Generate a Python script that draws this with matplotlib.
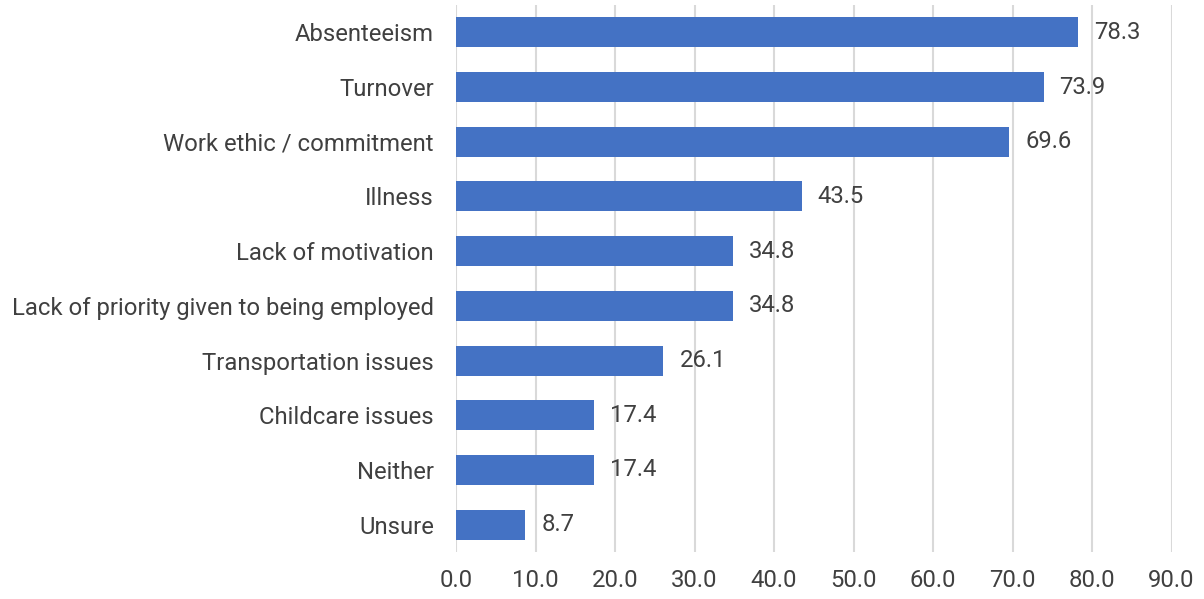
import matplotlib
matplotlib.use("Agg")
import matplotlib.pyplot as plt

categories = ["Absenteeism", "Turnover", "Work ethic / commitment", "Illness",
              "Lack of motivation", "Lack of priority given to being employed",
              "Transportation issues", "Childcare issues", "Neither", "Unsure"]
values = [78.3, 73.9, 69.6, 43.5, 34.8, 34.8, 26.1, 17.4, 17.4, 8.7]
xticks = [0, 10, 20, 30, 40, 50, 60, 70, 80, 90]

plt.rcParams['font.family'] = ['Roboto', 'DejaVu Sans']
text_color = '#404040'
bar_color = '#4472C4'
fs = 17.2

fig = plt.figure(figsize=(12.04, 5.99), dpi=100)
ax = fig.add_axes([456/1204, 1-552/599, (1171.5-456)/1204, (552-5)/599])

pos = list(range(len(categories)))
ax.barh(pos, values, height=0.55, color=bar_color, zorder=3)
for p, v in zip(pos, values):
    ax.annotate(f"{v:.1f}", (v, p), xytext=(11.5, 0), textcoords='offset points',
                va='center', ha='left', fontsize=fs, color=text_color)

ax.set_ylim(len(categories) - 0.5, -0.5)
ax.set_xlim(0, 90)
ax.set_xticks(xticks)
ax.set_xticklabels([f"{t:.1f}" for t in xticks], fontsize=fs, color=text_color)
ax.set_yticks(pos)
ax.set_yticklabels(categories, fontsize=fs, color=text_color, va='center_baseline')
ax.tick_params(axis='both', length=0)
ax.tick_params(axis='y', pad=16)
ax.tick_params(axis='x', pad=12)
ax.xaxis.grid(True, color='#d9d9d9', linewidth=1.5, zorder=0)
for s in ax.spines.values():
    s.set_visible(False)

fig.savefig("out.png", dpi=100)
